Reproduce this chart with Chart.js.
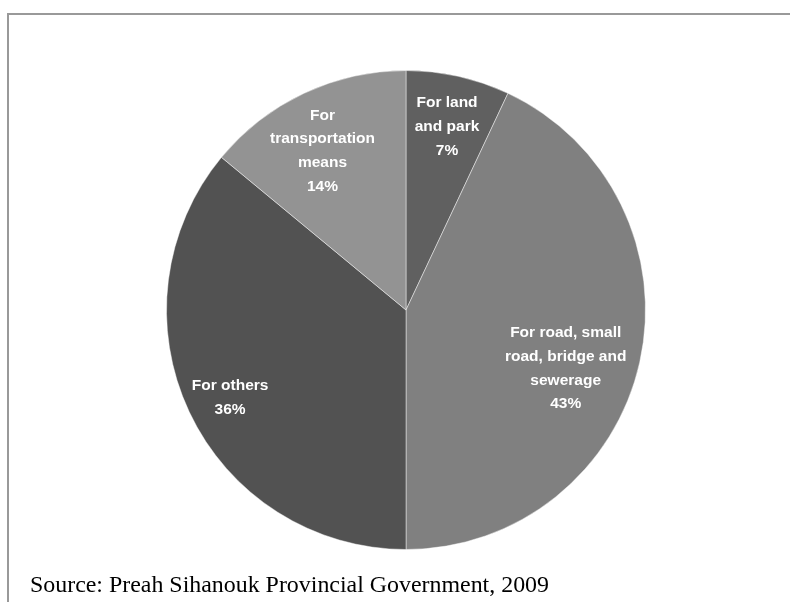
<!DOCTYPE html>
<html>
<head>
<meta charset="utf-8">
<script src="https://cdn.jsdelivr.net/npm/chart.js@4"></script>
<style>
  html, body { margin: 0; padding: 0; background: #fff; }
  #wrap { width: 790px; height: 602px; position: relative; }
</style>
</head>
<body>
<div id="wrap"><canvas id="chart"></canvas></div>
<script>
// budget split, percent
const categories = [
    ['For land', 'and park'],
    ['For road, small', 'road, bridge and', 'sewerage'],
    ['For others'],
    ['For', 'transportation', 'means']
]
const shares = [7, 43, 36, 14]
const sliceColors = ['#606060', '#808080', '#525252', '#939393']
const sourceNote = 'Source: Preah Sihanouk Provincial Government, 2009'

// where each label sits: fraction of radius, and angle nudge in degrees
const labelRadius = [0.785, 0.71, 0.82, 0.75]
const labelNudge = [0, 7.5, -1.2, -2.5]

const sliceLabels = {
    id: 'sliceLabels',
    afterDatasetsDraw(chart) {
        const ctx = chart.ctx
        const meta = chart.getDatasetMeta(0)
        ctx.save()
        ctx.fillStyle = '#fff'
        ctx.font = 'bold 15.5px "Liberation Sans", Arial, sans-serif'
        ctx.textAlign = 'center'
        ctx.textBaseline = 'middle'
        meta.data.forEach((arc, i) => {
            const p = arc.getProps(['x', 'y', 'startAngle', 'endAngle', 'outerRadius'], true)
            const mid = (p.startAngle + p.endAngle) / 2 + labelNudge[i] * Math.PI / 180
            const r = p.outerRadius * labelRadius[i]
            const cx = p.x + Math.cos(mid) * r
            const cy = p.y + Math.sin(mid) * r
            const lines = categories[i].concat([shares[i] + '%'])
            const lh = 23.8
            const top = cy - (lines.length - 1) * lh / 2
            lines.forEach((t, k) => ctx.fillText(t, cx, top + k * lh))
        })
        ctx.restore()
    }
}

const frameAndSource = {
    id: 'frameAndSource',
    afterDraw(chart) {
        const ctx = chart.ctx
        ctx.save()
        ctx.strokeStyle = '#999'
        ctx.lineWidth = 2
        ctx.beginPath()
        ctx.moveTo(8, 610)
        ctx.lineTo(8, 14)
        ctx.lineTo(800, 14)
        ctx.stroke()
        ctx.fillStyle = '#000'
        ctx.font = '24px "Liberation Serif", "Times New Roman", serif'
        ctx.textBaseline = 'alphabetic'
        const w = ctx.measureText(sourceNote).width
        ctx.translate(30, 592)
        ctx.scale(519 / w, 1)
        ctx.fillText(sourceNote, 0, 0)
        ctx.restore()
    }
}

new Chart(document.getElementById('chart'), {
    type: 'pie',
    data: {
        labels: categories.map(c => c.join(' ')),
        datasets: [{
            data: shares,
            backgroundColor: sliceColors,
            borderColor: 'rgba(255,255,255,0.45)',
            borderWidth: 1
        }]
    },
    options: {
        responsive: true,
        maintainAspectRatio: false,
        animation: false,
        layout: { padding: { left: 166, right: 144, top: 70, bottom: 52 } },
        plugins: {
            legend: { display: false },
            tooltip: { enabled: false }
        }
    },
    plugins: [sliceLabels, frameAndSource]
})
</script>
</body>
</html>
